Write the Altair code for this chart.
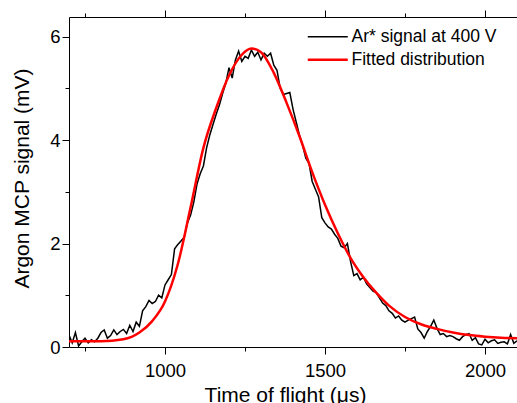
import altair as alt
import pandas as pd

# Measured signal (time of flight in microseconds, signal in mV)
sig_t = list(range(700, 2101, 10))
sig_v = [
    0.23, 0.08, 0.28, 0.02, 0.10, 0.17, 0.08, 0.14, 0.10, 0.17,
    0.28, 0.33, 0.17, 0.22, 0.33, 0.24, 0.30, 0.34, 0.26, 0.42,
    0.30, 0.48, 0.40, 0.70, 0.78, 0.90, 0.84, 0.88, 1.00, 0.95,
    1.20, 1.30, 1.40, 1.90, 1.98, 2.05, 2.12, 2.40, 2.55, 2.80,
    3.15, 3.35, 3.50, 3.85, 4.10, 4.30, 4.50, 4.68, 4.90, 5.10,
    5.40, 5.20, 5.55, 5.72, 5.52, 5.62, 5.58, 5.74, 5.62, 5.70,
    5.55, 5.68, 5.62, 5.68, 5.45, 5.35, 5.00, 4.88, 4.90, 4.92,
    4.60, 4.35, 4.10, 3.90, 3.65, 3.55, 3.20, 3.05, 2.90, 2.50,
    2.40, 2.32, 2.28, 2.18, 2.10, 1.95, 1.92, 2.00, 1.65, 1.38,
    1.42, 1.30, 1.35, 1.22, 1.15, 1.08, 1.05, 0.95, 0.85, 0.80,
    0.70, 0.65, 0.56, 0.60, 0.52, 0.48, 0.52, 0.55, 0.58, 0.35,
    0.28, 0.17, 0.30, 0.40, 0.52, 0.36, 0.24, 0.26, 0.20, 0.22,
    0.20, 0.16, 0.13, 0.20, 0.24, 0.26, 0.13, 0.18, 0.06, 0.04,
    0.15, 0.08, 0.12, 0.14, 0.07, 0.09, 0.10, 0.06, 0.24, 0.07,
    0.12,
]

# Fitted distribution
fit_t = [700, 800, 870, 920, 960, 1000, 1040, 1080, 1120, 1160, 1200, 1240,
         1270, 1300, 1340, 1380, 1420, 1460, 1500, 1540, 1580, 1620, 1660,
         1700, 1750, 1800, 1850, 1900, 1950, 2000, 2050, 2100]
fit_v = [0.11, 0.11, 0.15, 0.28, 0.50, 0.88, 1.60, 2.70, 3.85, 4.62, 5.25, 5.65,
         5.77, 5.70, 5.30, 4.72, 4.08, 3.38, 2.75, 2.20, 1.72, 1.35, 1.05,
         0.80, 0.58, 0.44, 0.35, 0.28, 0.23, 0.20, 0.18, 0.17]

series_names = ["Ar* signal at 400 V", "Fitted distribution"]
series_colors = ["#000000", "#ff0000"]
series_widths = [1.5, 2.5]

x_ticks = [750, 1000, 1250, 1500, 1750, 2000]
y_ticks = [0, 1, 2, 3, 4, 5, 6]

sig_df = pd.DataFrame({"t": sig_t, "v": sig_v, "series": series_names[0]})
fit_df = pd.DataFrame({"t": fit_t, "v": fit_v, "series": series_names[1]})

FONT = "Liberation Sans"

xscale = alt.Scale(domain=[700, 2100], nice=False, zero=False)
yscale = alt.Scale(domain=[0, 6.38], nice=False, zero=False)
cscale = alt.Scale(domain=series_names, range=series_colors)
wscale = alt.Scale(domain=series_names, range=series_widths)

x_tick_size = {"condition": {"test": "datum.value % 500 === 0", "value": 7}, "value": 4}
y_tick_size = {"condition": {"test": "datum.value % 2 === 0", "value": 7}, "value": 4}

x_bottom = alt.Axis(
    orient="bottom", values=x_ticks, format="d",
    labelExpr="datum.value % 500 === 0 ? datum.label : ''",
    tickSize=x_tick_size, labelPadding=7, labelFontSize=18.5, labelFont=FONT,
    labelColor="black", tickColor="black", domainColor="black",
    title="Time of flight (\u03bcs)", titleFont=FONT, titleFontSize=21,
    titleFontWeight="normal", titleColor="black",
    titleX=216, titleY=54, titleBaseline="alphabetic", titleAlign="center",
    grid=False,
)
x_top = alt.Axis(
    orient="top", values=x_ticks, labels=False, title=None,
    tickSize=x_tick_size, tickColor="black", domainColor="black", grid=False,
)
y_left = alt.Axis(
    orient="left", values=y_ticks, format="d",
    labelExpr="datum.value % 2 === 0 ? datum.label : ''",
    tickSize=y_tick_size, labelPadding=2, labelFontSize=18.5, labelFont=FONT,
    labelColor="black", tickColor="black", domainColor="black",
    title="Argon MCP signal (mV)", titleFont=FONT, titleFontSize=21,
    titleFontWeight="normal", titleColor="black",
    titleX=-41, titleY=161, titleAngle=-90, titleBaseline="alphabetic",
    titleAlign="center", grid=False,
)

legend = alt.Legend(
    title=None, orient="none", legendX=250, legendY=11,
    symbolType="M-5,0H5", symbolSize=64,
    labelFont=FONT, labelFontSize=17.5, labelColor="black",
    labelOffset=15, rowPadding=4, padding=0,
)

signal = alt.Chart(sig_df).mark_line(clip=True).encode(
    x=alt.X("t:Q", scale=xscale, axis=x_bottom),
    y=alt.Y("v:Q", scale=yscale, axis=y_left),
    color=alt.Color("series:N", scale=cscale, legend=legend, sort=series_names),
    strokeWidth=alt.StrokeWidth("series:N", scale=wscale, legend=legend, sort=series_names),
)

fit = alt.Chart(fit_df).mark_line(interpolate="monotone", clip=True).encode(
    x=alt.X("t:Q", scale=xscale, axis=x_top),
    y=alt.Y("v:Q", scale=yscale),
    color=alt.Color("series:N", scale=cscale, legend=legend, sort=series_names),
    strokeWidth=alt.StrokeWidth("series:N", scale=wscale, legend=legend, sort=series_names),
)

chart = (
    alt.layer(signal, fit)
    .resolve_axis(x="independent")
    .properties(
        width=448, height=330, autosize="none",
        padding={"left": 69, "top": 17, "right": 0, "bottom": 56},
        background="white",
    )
    .configure_view(stroke=None)
    .configure_axis(domainWidth=1, tickWidth=1)
)

chart.save("out.html", embed_options={"renderer": "svg", "actions": False})
